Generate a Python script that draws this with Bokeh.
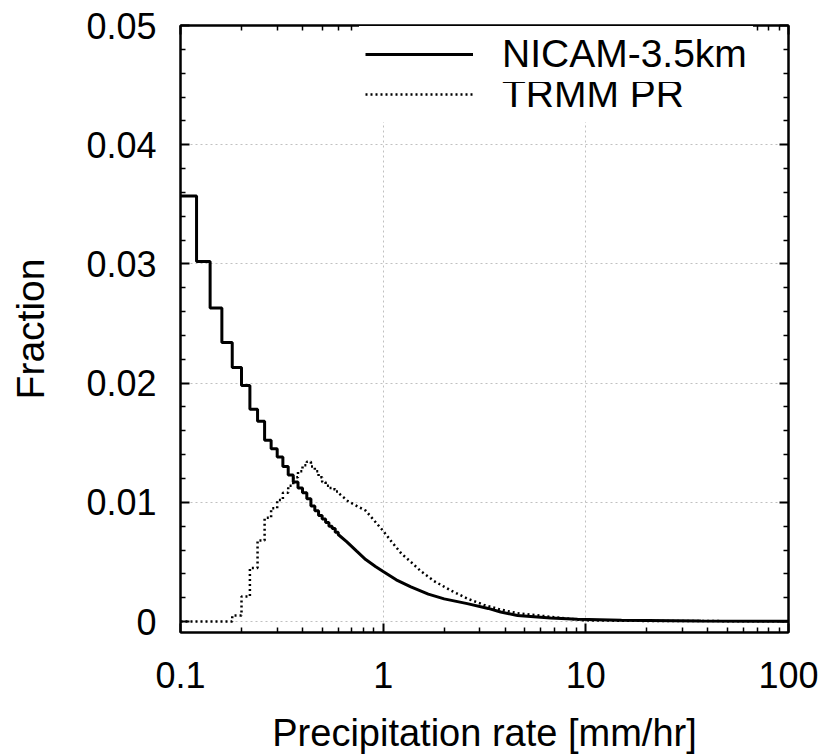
from bokeh.plotting import figure
from bokeh.models import (Range1d, FixedTicker, CustomJSTickFormatter, LogAxis,
                          LinearAxis, Legend, LegendItem)
from bokeh.embed import file_html
from bokeh.resources import INLINE

# ---- data ----
bin_edges = [0.10, 0.12, 0.14, 0.16, 0.18, 0.20, 0.22, 0.24, 0.26, 0.28, 0.30,
             0.32, 0.34, 0.36, 0.38, 0.40, 0.42, 0.44, 0.46, 0.48, 0.50, 0.52,
             0.54, 0.56, 0.58, 0.60]
nicam_bins = [0.0357, 0.0302, 0.0263, 0.0234, 0.0213, 0.0198, 0.0178, 0.0168,
              0.0152, 0.0145, 0.0138, 0.0130, 0.0123, 0.0117, 0.0112, 0.0108,
              0.0103, 0.0097, 0.0093, 0.0089, 0.0086, 0.0083, 0.0080, 0.0078,
              0.0075]
trmm_bins = [0.0, 0.0, 0.0, 0.0, 0.0005, 0.0021, 0.0045, 0.0068, 0.0087, 0.0095,
             0.0102, 0.0108, 0.0114, 0.0121, 0.0126, 0.0131, 0.0134, 0.0130,
             0.0126, 0.0121, 0.0117, 0.0114, 0.0112, 0.0111, 0.0109]

nicam_tail_x = [0.60, 0.66, 0.74, 0.82, 0.92, 1.0, 1.16, 1.37, 1.67, 2.0, 2.6,
                3.3, 3.8, 4.6, 6.7, 9.1, 15.0, 37.0, 100.0]
nicam_tail_y = [0.0073, 0.0067, 0.0059, 0.0052, 0.0046, 0.0042, 0.0035, 0.0029,
                0.0023, 0.0019, 0.0015, 0.0011, 0.0008, 0.0005, 0.0003, 0.0002,
                0.0001, 0.00005, 0.00002]
trmm_tail_x = [0.60, 0.67, 0.74, 0.82, 0.90, 1.0, 1.1, 1.23, 1.37, 1.54, 1.78,
               2.16, 2.62, 3.14, 3.8, 4.6, 6.7, 9.8, 20.0, 100.0]
trmm_tail_y = [0.0108, 0.0101, 0.0097, 0.0093, 0.0085, 0.0076, 0.0067, 0.0057,
               0.0050, 0.0042, 0.0034, 0.0026, 0.0019, 0.0014, 0.0010, 0.0007,
               0.0004, 0.0001, 0.00005, 0.00002]

x_major = [0.1, 1, 10, 100]
x_minor = [0.2, 0.3, 0.4, 0.5, 0.6, 0.7, 0.8, 0.9, 2, 3, 4, 5, 6, 7, 8, 9,
           20, 30, 40, 50, 60, 70, 80, 90]
y_major = [0, 0.01, 0.02, 0.03, 0.04, 0.05]
y_minor = [0.002, 0.004, 0.006, 0.008, 0.012, 0.014, 0.016, 0.018, 0.022,
           0.024, 0.026, 0.028, 0.032, 0.034, 0.036, 0.038, 0.042, 0.044,
           0.046, 0.048]


def step_path(edges, vals, tx, ty):
    xs, ys = [], []
    for i, v in enumerate(vals):
        xs += [edges[i], edges[i + 1]]
        ys += [v, v]
    return xs + list(tx), ys + list(ty)


nx, ny = step_path(bin_edges, nicam_bins, nicam_tail_x, nicam_tail_y)
tx, ty = step_path(bin_edges, trmm_bins, trmm_tail_x, trmm_tail_y)

FONT = "Liberation Sans"

p = figure(width=829, height=756, x_axis_type="log",
           x_range=Range1d(0.1, 100), y_range=Range1d(-0.00092, 0.05),
           output_backend="svg", toolbar_location=None,
           min_border_left=180, min_border_right=41, min_border_top=25,
           min_border_bottom=122)
p.background_fill_color = "white"
p.border_fill_color = "white"
p.outline_line_color = "black"
p.outline_line_width = 2

xt = FixedTicker(ticks=x_major, minor_ticks=x_minor)
yt = FixedTicker(ticks=y_major, minor_ticks=y_minor)

p.xaxis.ticker = xt
p.yaxis.ticker = yt
p.xaxis.formatter = CustomJSTickFormatter(
    code="return tick >= 1 ? tick.toFixed(0) : tick.toString();")
p.yaxis.formatter = CustomJSTickFormatter(
    code="return tick == 0 ? '0' : tick.toFixed(2);")

for ax in (p.xaxis[0], p.yaxis[0]):
    ax.axis_line_width = 2
    ax.axis_line_color = "black"
    ax.major_tick_in = 9
    ax.major_tick_out = 0
    ax.minor_tick_in = 5
    ax.minor_tick_out = 0
    ax.major_tick_line_width = 2
    ax.minor_tick_line_width = 1.5
    ax.major_tick_line_color = "black"
    ax.minor_tick_line_color = "black"
    ax.major_label_text_font = FONT
    ax.major_label_text_font_size = "36px"
    ax.major_label_text_color = "black"
    ax.axis_label_text_font = FONT
    ax.axis_label_text_font_style = "normal"
    ax.axis_label_text_color = "black"

p.xaxis.axis_label = "Precipitation rate [mm/hr]"
p.yaxis.axis_label = "Fraction"
p.xaxis.axis_label_text_font_size = "38px"
p.yaxis.axis_label_text_font_size = "39px"
p.xaxis.major_label_standoff = 29
p.yaxis.major_label_standoff = 24
p.xaxis.axis_label_standoff = 21
p.yaxis.axis_label_standoff = 31

# mirrored axes (ticks only)
top = LogAxis(ticker=xt, formatter=CustomJSTickFormatter(code="return '';"))
right = LinearAxis(ticker=yt, formatter=CustomJSTickFormatter(code="return '';"))
for ax in (top, right):
    ax.axis_line_width = 2
    ax.major_tick_in = 9
    ax.major_tick_out = 0
    ax.minor_tick_in = 5
    ax.minor_tick_out = 0
    ax.major_tick_line_width = 2
    ax.minor_tick_line_width = 1.5
    ax.major_label_text_font_size = "0px"
    ax.major_label_standoff = 0
p.add_layout(top, "above")
p.add_layout(right, "right")

for g in (p.xgrid[0], p.ygrid[0]):
    g.grid_line_color = "#c0c0c0"
    g.grid_line_dash = "2 3"
    g.grid_line_width = 1

r1 = p.line(nx, ny, line_color="black", line_width=3)
r2 = p.line(tx, ty, line_color="black", line_width=2.5, line_dash="2 3")


def make_legend(label, rend, loc):
    lg = Legend(items=[LegendItem(label=label, renderers=[rend])], location=loc)
    lg.label_text_font = FONT
    lg.label_text_font_size = "39px"
    lg.label_text_color = "black"
    lg.glyph_width = 108
    lg.glyph_height = 20
    lg.label_standoff = 29
    lg.padding = 6
    lg.margin = 0
    lg.border_line_alpha = 0
    lg.background_fill_color = "white"
    lg.background_fill_alpha = 1
    return lg


p.add_layout(make_legend("TRMM PR", r2, (179, 510)))
p.add_layout(make_legend("NICAM-3.5km", r1, (179, 550)))

open("out.html", "w").write(file_html(p, INLINE))
